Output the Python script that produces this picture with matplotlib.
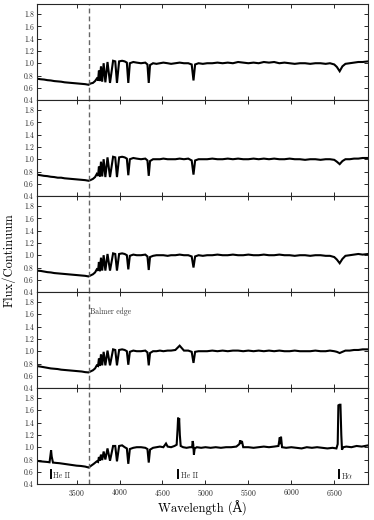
import matplotlib
matplotlib.use("Agg")
import matplotlib.pyplot as plt
import numpy as np

plt.rcParams['font.family'] = ['cmr10', 'DejaVu Serif']
plt.rcParams['mathtext.fontset'] = 'cm'
plt.rcParams['axes.formatter.use_mathtext'] = True

# wavelength grid shared by the four upper spectra (Angstrom)
lam = [3035, 3080, 3120, 3160, 3200, 3240, 3280, 3320, 3360, 3400,
       3440, 3480, 3520, 3560, 3600, 3640, 3660, 3690, 3715, 3735,
       3750, 3760, 3771, 3784, 3798, 3815, 3835, 3860, 3889, 3925,
       3950, 3970, 3995, 4030, 4060, 4085, 4102, 4120, 4160, 4200,
       4250, 4300, 4325, 4340, 4355, 4390, 4430, 4470, 4510, 4560,
       4600, 4650, 4700, 4750, 4800, 4840, 4861, 4880, 4920, 4970,
       5020, 5080, 5140, 5200, 5260, 5320, 5380, 5440, 5500, 5560,
       5620, 5680, 5740, 5800, 5860, 5920, 5980, 6040, 6100, 6160,
       6220, 6280, 6340, 6400, 6450, 6500, 6530, 6563, 6595, 6630,
       6680, 6730, 6780, 6830, 6895]

flux1 = [0.75, 0.74, 0.735, 0.725, 0.72, 0.71, 0.705, 0.70, 0.69, 0.685,
         0.68, 0.675, 0.67, 0.665, 0.66, 0.65, 0.67, 0.68, 0.71, 0.75,
         0.72, 0.88, 0.71, 0.95, 0.70, 1.00, 0.69, 1.02, 0.68, 1.04,
         1.03, 0.68, 1.03, 1.04, 1.03, 1.01, 0.68, 1.00, 1.02, 1.01,
         1.00, 1.01, 0.98, 0.68, 0.97, 1.00, 0.99, 1.00, 1.01, 1.00,
         0.99, 1.00, 1.01, 1.00, 1.00, 0.98, 0.72, 0.98, 1.00, 0.99,
         1.00, 1.00, 1.01, 1.00, 1.01, 1.00, 1.02, 1.01, 1.00, 1.01,
         1.00, 1.02, 1.01, 1.02, 1.00, 1.01, 1.00, 0.99, 1.00, 1.00,
         0.99, 1.00, 1.00, 0.99, 1.00, 0.98, 0.94, 0.87, 0.95, 0.99,
         1.00, 1.01, 1.02, 1.02, 1.03]

flux2 = [0.75, 0.74, 0.73, 0.725, 0.715, 0.71, 0.70, 0.70, 0.69, 0.685,
         0.68, 0.675, 0.67, 0.665, 0.66, 0.65, 0.66, 0.68, 0.71, 0.76,
         0.73, 0.88, 0.72, 0.96, 0.72, 1.00, 0.71, 1.03, 0.71, 1.04,
         1.03, 0.71, 1.03, 1.04, 1.03, 1.01, 0.74, 1.00, 1.02, 1.01,
         1.00, 1.01, 0.98, 0.73, 0.97, 1.00, 1.00, 1.00, 1.01, 1.00,
         1.00, 1.00, 1.01, 1.00, 1.01, 0.98, 0.75, 0.98, 1.00, 1.00,
         1.00, 1.01, 1.00, 1.00, 1.01, 1.00, 1.01, 1.00, 1.00, 1.01,
         1.00, 1.01, 1.00, 1.01, 1.00, 1.00, 1.01, 1.00, 1.00, 0.99,
         1.00, 1.00, 0.99, 1.00, 1.00, 0.99, 0.96, 0.92, 0.97, 1.00,
         1.00, 1.01, 1.01, 1.02, 1.02]

flux3 = [0.75, 0.745, 0.735, 0.725, 0.72, 0.71, 0.705, 0.70, 0.695, 0.69,
         0.685, 0.68, 0.675, 0.67, 0.665, 0.655, 0.67, 0.69, 0.72, 0.77,
         0.75, 0.89, 0.74, 0.96, 0.75, 1.00, 0.75, 1.02, 0.75, 1.03,
         1.02, 0.75, 1.02, 1.03, 1.02, 1.00, 0.77, 0.99, 1.01, 1.00,
         1.00, 1.01, 0.98, 0.76, 0.97, 0.99, 1.00, 1.00, 1.00, 0.99,
         1.00, 1.00, 1.01, 1.00, 1.00, 0.98, 0.80, 0.98, 1.00, 0.99,
         1.00, 1.00, 1.01, 1.00, 1.00, 1.01, 1.00, 1.00, 1.01, 1.00,
         1.00, 1.01, 1.00, 1.00, 1.01, 1.00, 1.00, 0.99, 1.00, 1.00,
         0.99, 1.00, 1.00, 0.99, 0.99, 0.97, 0.93, 0.87, 0.94, 0.99,
         1.00, 1.01, 1.02, 1.01, 1.02]

flux4 = [0.76, 0.75, 0.74, 0.73, 0.72, 0.715, 0.71, 0.70, 0.695, 0.69,
         0.685, 0.68, 0.675, 0.67, 0.66, 0.655, 0.67, 0.69, 0.72, 0.77,
         0.76, 0.88, 0.76, 0.95, 0.77, 0.99, 0.77, 1.01, 0.77, 1.03,
         1.02, 0.77, 1.02, 1.03, 1.02, 1.00, 0.78, 0.99, 1.01, 1.00,
         1.00, 1.01, 0.98, 0.77, 0.97, 1.00, 1.00, 1.01, 1.00, 1.01,
         1.01, 1.02, 1.09, 1.01, 1.01, 0.99, 0.81, 0.99, 1.00, 1.00,
         1.00, 1.01, 1.00, 1.01, 1.00, 1.01, 1.01, 1.00, 1.01, 1.00,
         1.01, 1.00, 1.01, 1.00, 1.01, 1.00, 1.00, 1.01, 1.00, 1.00,
         1.00, 1.01, 1.00, 1.00, 1.01, 1.00, 0.99, 0.97, 0.99, 1.01,
         1.01, 1.02, 1.02, 1.03, 1.03]

# lower spectrum, with He II and H-alpha emission
lam5 = [3035, 3080, 3120, 3160, 3185, 3195, 3203, 3210, 3225, 3260,
        3300, 3350, 3400, 3450, 3500, 3550, 3600, 3640, 3670, 3700,
        3735, 3750, 3760, 3771, 3784, 3798, 3815, 3835, 3860, 3889,
        3925, 3950, 3970, 3995, 4030, 4060, 4085, 4102, 4120, 4160,
        4200, 4250, 4300, 4325, 4340, 4355, 4390, 4430, 4470, 4510,
        4541, 4560, 4600, 4640, 4665, 4676, 4682, 4688, 4694, 4702,
        4712, 4740, 4780, 4820, 4845, 4852, 4858, 4866, 4875, 4900,
        4950, 5000, 5060, 5120, 5180, 5240, 5300, 5360, 5395, 5405,
        5415, 5425, 5440, 5500, 5560, 5620, 5680, 5740, 5800, 5850,
        5866, 5873, 5880, 5892, 5940, 6000, 6060, 6120, 6180, 6240,
        6300, 6360, 6420, 6480, 6525, 6540, 6548, 6560, 6572, 6582,
        6590, 6605, 6640, 6700, 6760, 6820, 6895]

flux5 = [0.78, 0.77, 0.765, 0.76, 0.755, 0.86, 0.95, 0.85, 0.75, 0.745,
         0.74, 0.73, 0.72, 0.71, 0.70, 0.695, 0.685, 0.67, 0.70, 0.73,
         0.77, 0.76, 0.84, 0.78, 0.88, 0.79, 0.93, 0.80, 0.98, 0.78,
         1.02, 1.02, 0.77, 1.02, 1.03, 1.00, 0.98, 0.73, 0.97, 0.99,
         1.00, 1.00, 0.99, 0.97, 0.75, 0.96, 0.99, 1.00, 1.01, 1.00,
         1.06, 1.01, 1.00, 1.02, 1.04, 1.30, 1.48, 1.35, 1.47, 1.20,
         1.02, 1.00, 0.99, 1.00, 1.00, 1.10, 1.05, 0.88, 0.98, 1.00,
         0.99, 1.00, 0.99, 1.00, 0.99, 1.00, 1.00, 1.01, 1.05, 1.11,
         1.06, 1.10, 1.00, 1.00, 0.99, 1.00, 1.01, 1.00, 1.01, 1.02,
         1.16, 1.05, 1.17, 1.00, 0.99, 1.00, 0.99, 0.98, 1.00, 0.99,
         1.00, 0.99, 0.98, 0.99, 0.98, 1.05, 1.68, 1.69, 1.69, 1.20,
         0.96, 1.00, 1.01, 1.00, 1.02, 1.01, 1.03]

waves = [lam, lam, lam, lam, lam5]
fluxes = [flux1, flux2, flux3, flux4, flux5]

balmer_edge = 3646
line_pos = [3203, 4686, 6558]
line_names = ['He II', 'He II', r'H$\alpha$']

fig, axes = plt.subplots(5, 1, figsize=(3.74, 5.20), dpi=100, sharex=True)
plt.subplots_adjust(left=0.098, right=0.984, top=0.992, bottom=0.069, hspace=0)

for i, ax in enumerate(axes):
    ax.plot(waves[i], fluxes[i], color='black', lw=1.5, solid_joinstyle='miter')
    ax.axvline(balmer_edge, color='0.4', lw=1.0, linestyle=(0, (3.5, 2.2)))
    ax.set_xlim(3035, 6893)
    ax.set_ylim(0.4, 1.96)
    ax.set_yticks(np.arange(0.4, 1.81, 0.2))
    ax.set_yticklabels(['%.1f' % v for v in np.arange(0.4, 1.81, 0.2)])
    ax.set_xticks([3500, 4000, 4500, 5000, 5500, 6000, 6500])
    ax.tick_params(direction='in', top=True, right=True, length=3, width=0.7,
                   labelsize=5.5, pad=2, colors='0.15')
    for sp in ax.spines.values():
        sp.set_linewidth(0.8)
        sp.set_color('0.15')

axes[3].text(balmer_edge + 15, 1.64, 'Balmer edge', fontsize=5.5, color='0.2',
             va='center', ha='left')

for x, name in zip(line_pos, line_names):
    axes[4].plot([x, x], [0.50, 0.63], color='black', lw=1.4)
    axes[4].text(x + 25, 0.53, name, fontsize=5.5, color='0.2', ha='left', va='center')

axes[4].set_xlabel('Wavelength (Å)', fontsize=9, labelpad=2)
fig.text(0.025, 0.5, 'Flux/Continuum', rotation=90, fontsize=9, va='center', ha='center')

plt.savefig('out.png', dpi=100)
